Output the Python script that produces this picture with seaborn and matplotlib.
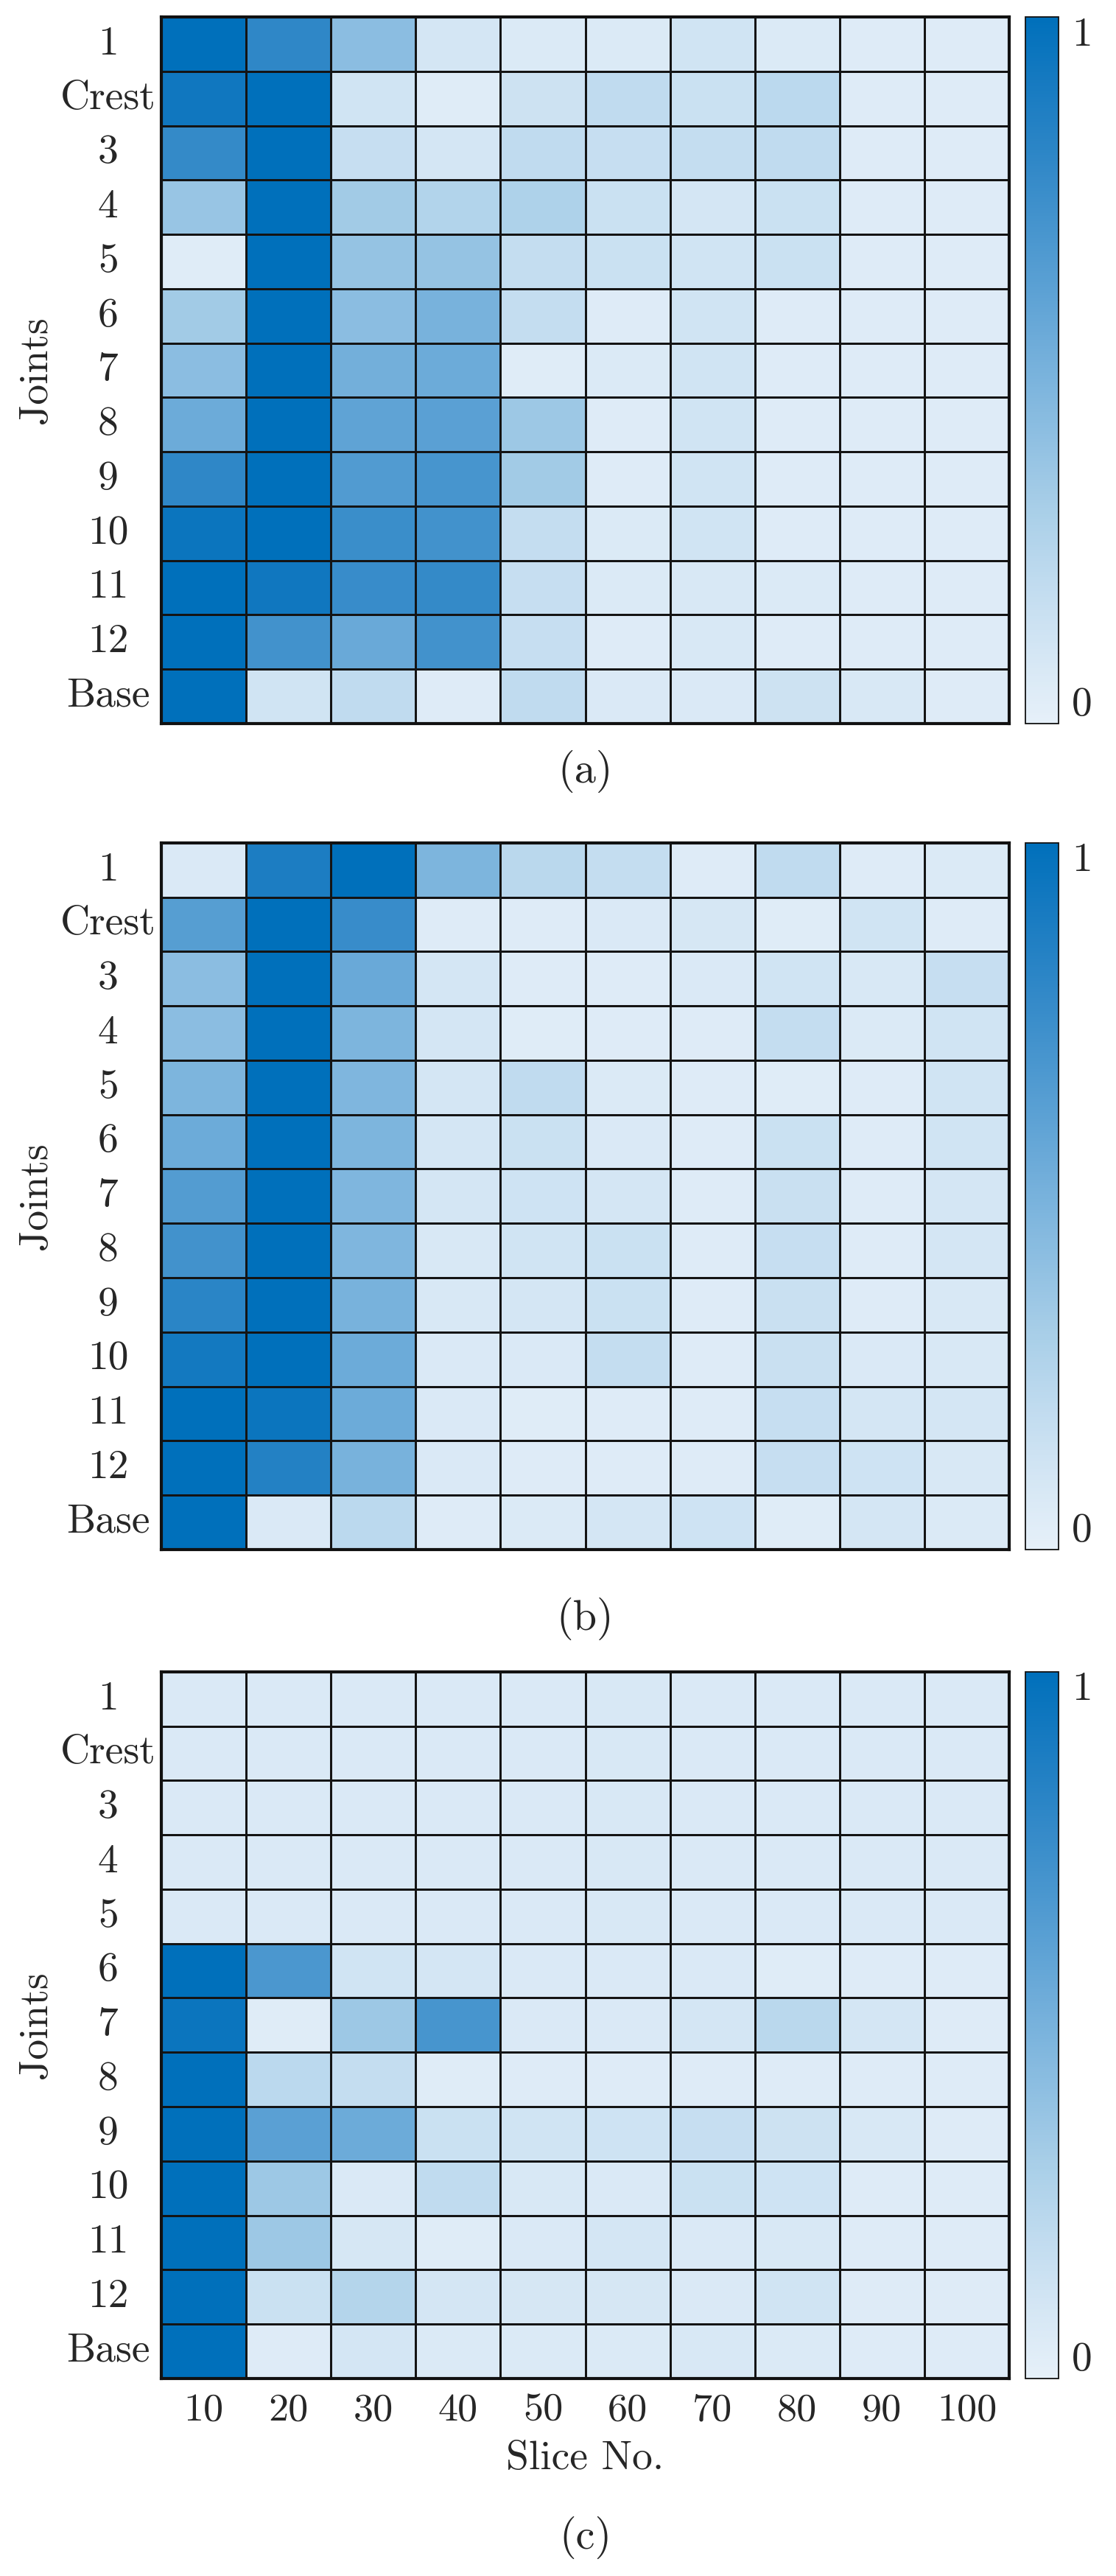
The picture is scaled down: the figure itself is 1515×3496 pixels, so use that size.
import numpy as np
import pandas as pd
import seaborn as sns
import matplotlib.pyplot as plt
from matplotlib.colors import LinearSegmentedColormap
from matplotlib.ticker import MultipleLocator

# ---------------------------------------------------------------------------
# data (values 0..1)
# ---------------------------------------------------------------------------
joints = ['1', 'Crest', '3', '4', '5', '6', '7', '8', '9', '10', '11', '12', 'Base']
slices = [10, 20, 30, 40, 50, 60, 70, 80, 90, 100]

panel_a = [
    [1.00, 0.80, 0.42, 0.10, 0.06, 0.06, 0.12, 0.06, 0.05, 0.05],
    [0.93, 1.00, 0.12, 0.04, 0.14, 0.20, 0.15, 0.22, 0.05, 0.05],
    [0.78, 1.00, 0.17, 0.10, 0.20, 0.17, 0.18, 0.20, 0.05, 0.05],
    [0.37, 1.00, 0.33, 0.26, 0.28, 0.15, 0.10, 0.15, 0.05, 0.05],
    [0.04, 1.00, 0.38, 0.38, 0.18, 0.15, 0.12, 0.15, 0.05, 0.05],
    [0.33, 1.00, 0.42, 0.50, 0.18, 0.05, 0.12, 0.05, 0.05, 0.05],
    [0.42, 1.00, 0.52, 0.55, 0.04, 0.06, 0.12, 0.05, 0.05, 0.05],
    [0.55, 1.00, 0.60, 0.62, 0.35, 0.05, 0.12, 0.05, 0.05, 0.05],
    [0.80, 1.00, 0.66, 0.70, 0.33, 0.05, 0.12, 0.05, 0.05, 0.05],
    [0.95, 1.00, 0.75, 0.72, 0.18, 0.06, 0.12, 0.05, 0.05, 0.05],
    [1.00, 0.93, 0.76, 0.78, 0.17, 0.06, 0.08, 0.06, 0.05, 0.05],
    [1.00, 0.72, 0.56, 0.72, 0.17, 0.05, 0.08, 0.05, 0.05, 0.05],
    [1.00, 0.12, 0.20, 0.05, 0.20, 0.07, 0.07, 0.14, 0.08, 0.05],
]

panel_b = [
    [0.07, 0.88, 1.00, 0.48, 0.23, 0.18, 0.05, 0.20, 0.05, 0.06],
    [0.64, 1.00, 0.76, 0.05, 0.05, 0.07, 0.09, 0.04, 0.12, 0.05],
    [0.42, 1.00, 0.56, 0.10, 0.05, 0.05, 0.07, 0.12, 0.08, 0.17],
    [0.42, 1.00, 0.48, 0.10, 0.04, 0.05, 0.05, 0.18, 0.06, 0.12],
    [0.48, 1.00, 0.47, 0.10, 0.20, 0.06, 0.05, 0.04, 0.05, 0.12],
    [0.55, 1.00, 0.48, 0.10, 0.15, 0.07, 0.05, 0.15, 0.05, 0.12],
    [0.65, 1.00, 0.47, 0.10, 0.13, 0.10, 0.05, 0.16, 0.05, 0.10],
    [0.72, 1.00, 0.47, 0.08, 0.12, 0.15, 0.05, 0.17, 0.05, 0.10],
    [0.82, 1.00, 0.50, 0.08, 0.10, 0.15, 0.05, 0.16, 0.05, 0.08],
    [0.92, 1.00, 0.55, 0.07, 0.07, 0.18, 0.05, 0.16, 0.07, 0.08],
    [1.00, 0.95, 0.55, 0.07, 0.04, 0.05, 0.05, 0.17, 0.10, 0.10],
    [1.00, 0.85, 0.50, 0.07, 0.05, 0.05, 0.05, 0.17, 0.13, 0.08],
    [1.00, 0.07, 0.22, 0.05, 0.06, 0.10, 0.13, 0.04, 0.10, 0.06],
]

panel_c = [
    [0.07, 0.07, 0.07, 0.07, 0.07, 0.08, 0.07, 0.07, 0.07, 0.07],
    [0.07, 0.07, 0.07, 0.07, 0.07, 0.08, 0.07, 0.07, 0.07, 0.07],
    [0.07, 0.07, 0.07, 0.07, 0.07, 0.08, 0.07, 0.07, 0.07, 0.07],
    [0.07, 0.07, 0.07, 0.07, 0.07, 0.08, 0.07, 0.07, 0.07, 0.07],
    [0.07, 0.07, 0.07, 0.07, 0.07, 0.08, 0.07, 0.07, 0.07, 0.07],
    [1.00, 0.68, 0.12, 0.10, 0.07, 0.07, 0.07, 0.04, 0.05, 0.05],
    [0.95, 0.04, 0.35, 0.70, 0.07, 0.07, 0.10, 0.23, 0.10, 0.05],
    [1.00, 0.22, 0.18, 0.04, 0.05, 0.05, 0.05, 0.05, 0.05, 0.05],
    [1.00, 0.62, 0.55, 0.15, 0.12, 0.13, 0.17, 0.14, 0.08, 0.05],
    [1.00, 0.35, 0.07, 0.20, 0.08, 0.07, 0.15, 0.13, 0.05, 0.05],
    [1.00, 0.35, 0.09, 0.04, 0.07, 0.10, 0.07, 0.08, 0.05, 0.05],
    [1.00, 0.15, 0.25, 0.10, 0.09, 0.09, 0.07, 0.12, 0.05, 0.05],
    [1.00, 0.05, 0.10, 0.06, 0.06, 0.06, 0.08, 0.06, 0.05, 0.05],
]

panel_tags = ['(a)', '(b)', '(c)']

# ---------------------------------------------------------------------------
# style
# ---------------------------------------------------------------------------
sns.set_style("white")
plt.rcParams['font.family'] = ['cmr10', 'DejaVu Serif']
plt.rcParams['axes.formatter.use_mathtext'] = True

cmap = LinearSegmentedColormap.from_list('mblue', [
    '#e6f0f9', '#d4e6f4', '#c0dbef', '#a9cfe8', '#90c0e2', '#78b2dc',
    '#5fa3d5', '#4795ce', '#2f87c7', '#187bc1', '#0070bb'])

fig = plt.figure(figsize=(15.15, 34.96), dpi=100)

bottoms = [0.7191, 0.3985, 0.0767]
tag_y = [0.7005, 0.3716, 0.0149]
ax_h = 0.2743

for i, data in enumerate([panel_a, panel_b, panel_c]):
    df = pd.DataFrame(data, index=joints, columns=slices)
    ax = fig.add_axes([0.1446, bottoms[i], 0.7597, ax_h])
    cax = fig.add_axes([0.9188, bottoms[i], 0.0297, ax_h])

    sns.heatmap(df, ax=ax, cbar_ax=cax, cmap=cmap, vmin=0, vmax=1,
                linewidths=2, linecolor='#141414')

    for sp in ax.spines.values():
        sp.set_visible(True)
        sp.set_linewidth(3)
        sp.set_color('#111111')

    ax.tick_params(length=0)
    ax.set_yticklabels(joints, rotation=0, fontsize=40)
    for lab in ax.get_yticklabels():
        lab.set_horizontalalignment('center')
    ax.tick_params(axis='y', pad=52)

    if i < 2:
        ax.set_xticklabels([])
        ax.set_xlabel('')
    else:
        ax.set_xticklabels([str(s) for s in slices], rotation=0, fontsize=39)
        ax.tick_params(axis='x', pad=14)
        ax.set_xlabel('Slice No.', fontsize=40)
        ax.xaxis.set_label_coords(0.5, -0.088)

    ax.set_ylabel('Joints', fontsize=40)
    ax.yaxis.set_label_coords(-0.126, 0.5)

    # colorbar: labels at the ends, minor ticks every 0.1 pointing inward
    cb = ax.collections[0].colorbar
    cb.outline.set_visible(True)
    cb.outline.set_linewidth(1.3)
    cb.outline.set_edgecolor('#111111')
    cb.set_ticks([0, 1])
    cb.set_ticklabels(['0', '1'])
    cb.ax.yaxis.set_minor_locator(MultipleLocator(0.1))
    cb.ax.tick_params(which='major', length=0, labelsize=40, pad=13)
    cb.ax.tick_params(which='minor', direction='in', length=7, width=1,
                      color='#111111', right=True)
    tl = cb.ax.get_yticklabels()
    tl[0].set_verticalalignment('bottom')
    tl[1].set_verticalalignment('top')

    fig.text(0.5244, tag_y[i], panel_tags[i], ha='center', va='center', fontsize=42)

fig.savefig('out.png', dpi=100)
plt.close()
